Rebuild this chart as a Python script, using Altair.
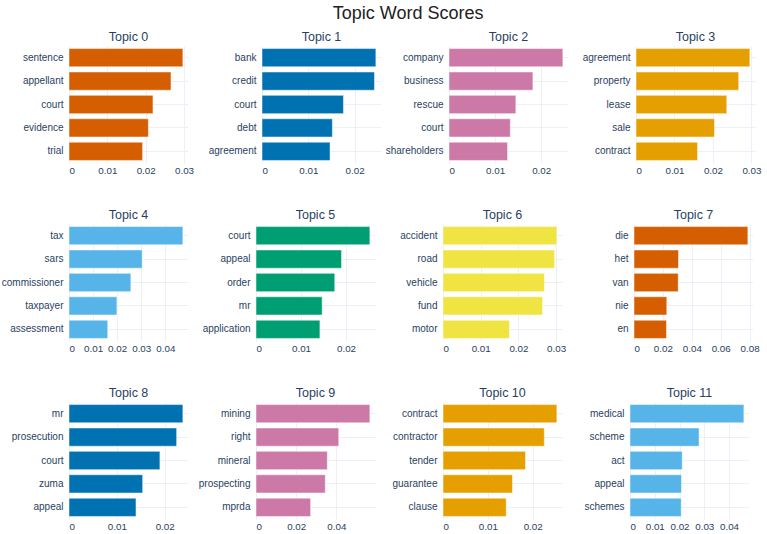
import altair as alt
import pandas as pd

# Top words and their c-TF-IDF scores per topic
topics = [f"Topic {i}" for i in range(12)]

words = [
    ["sentence", "appellant", "court", "evidence", "trial"],
    ["bank", "credit", "court", "debt", "agreement"],
    ["company", "business", "rescue", "court", "shareholders"],
    ["agreement", "property", "lease", "sale", "contract"],
    ["tax", "sars", "commissioner", "taxpayer", "assessment"],
    ["court", "appeal", "order", "mr", "application"],
    ["accident", "road", "vehicle", "fund", "motor"],
    ["die", "het", "van", "nie", "en"],
    ["mr", "prosecution", "court", "zuma", "appeal"],
    ["mining", "right", "mineral", "prospecting", "mprda"],
    ["contract", "contractor", "tender", "guarantee", "clause"],
    ["medical", "scheme", "act", "appeal", "schemes"],
]

scores = [
    [0.0297, 0.0266, 0.0219, 0.0207, 0.0192],
    [0.0246, 0.0243, 0.0176, 0.0152, 0.0147],
    [0.0247, 0.0182, 0.0145, 0.0133, 0.0127],
    [0.0296, 0.0267, 0.0236, 0.0204, 0.0160],
    [0.0473, 0.0304, 0.0257, 0.0199, 0.0161],
    [0.0253, 0.0190, 0.0175, 0.0147, 0.0142],
    [0.0302, 0.0296, 0.0269, 0.0264, 0.0176],
    [0.0788, 0.0308, 0.0306, 0.0227, 0.0225],
    [0.0238, 0.0225, 0.0190, 0.0154, 0.0140],
    [0.0567, 0.0412, 0.0355, 0.0345, 0.0272],
    [0.0254, 0.0226, 0.0184, 0.0155, 0.0141],
    [0.0460, 0.0279, 0.0211, 0.0208, 0.0207],
]

tick_values = [
    [0, 0.01, 0.02, 0.03],
    [0, 0.01, 0.02],
    [0, 0.01, 0.02],
    [0, 0.01, 0.02, 0.03],
    [0, 0.01, 0.02, 0.03, 0.04],
    [0, 0.01, 0.02],
    [0, 0.01, 0.02, 0.03],
    [0, 0.02, 0.04, 0.06, 0.08],
    [0, 0.01, 0.02],
    [0, 0.02, 0.04],
    [0, 0.01, 0.02],
    [0, 0.01, 0.02, 0.03, 0.04],
]

palette = ["#D55E00", "#0072B2", "#CC79A7", "#E69F00", "#56B4E9", "#009E73", "#F0E442"]

FONT = "Liberation Sans"
LABEL_COLOR = "#2a3f5f"
GRID_COLOR = "#ebf0f8"


def panel(i):
    df = pd.DataFrame({"word": words[i], "score": scores[i]})
    upper = max(scores[i]) * 1.045
    return (
        alt.Chart(
            df,
            title=alt.TitleParams(
                topics[i], fontSize=12.5, font=FONT, color=LABEL_COLOR,
                fontWeight="normal", offset=3, anchor="middle",
            ),
        )
        .mark_bar(color=palette[i % len(palette)], stroke="white", strokeWidth=0.5)
        .encode(
            x=alt.X(
                "score:Q",
                scale=alt.Scale(domain=[0, upper], nice=False, zero=True),
                axis=alt.Axis(
                    values=tick_values[i], format="~g", title=None,
                    labelFontSize=9.8, labelPadding=2, grid=True,
                ),
            ),
            y=alt.Y(
                "word:N",
                sort=words[i],
                scale=alt.Scale(paddingInner=0.22, paddingOuter=0.11),
                axis=alt.Axis(
                    title=None, labelFontSize=10, labelPadding=6,
                    bandPosition=0.5, grid=True, minExtent=66, maxExtent=66,
                ),
            ),
        )
        .properties(width=119, height=117)
    )


rows = [
    alt.hconcat(*[panel(r * 4 + c) for c in range(4)], spacing=2)
    for r in range(3)
]

chart = (
    alt.vconcat(*rows, spacing=33)
    .properties(
        title=alt.TitleParams(
            "Topic Word Scores", fontSize=18, font=FONT, color="#222222",
            fontWeight="normal", anchor="middle", offset=8, dx=27,
        ),
        padding={"left": 1, "top": 4, "right": 5, "bottom": 3},
        background="white",
    )
    .configure_view(stroke=None)
    .configure_axis(
        domain=False, ticks=False, gridColor=GRID_COLOR, gridWidth=1,
        labelFont=FONT, labelColor=LABEL_COLOR,
    )
)

chart.save("out.html", embed_options={"renderer": "svg", "actions": False})
